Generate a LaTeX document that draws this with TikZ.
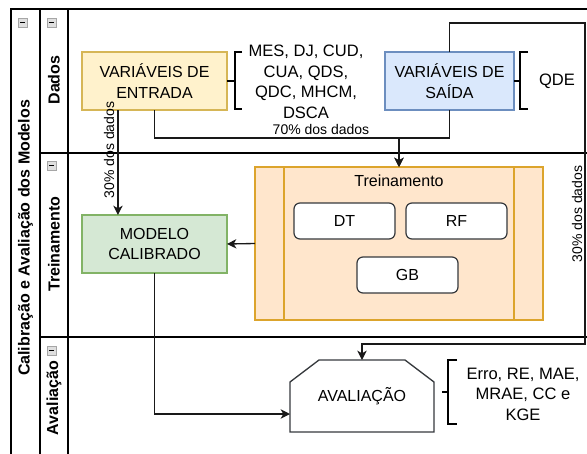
\documentclass[tikz,border=0pt]{standalone}
\usepackage{fontspec}
\setmainfont{Liberation Sans}
\usetikzlibrary{arrows.meta,calc}
\definecolor{yfill}{HTML}{FFF2CC}
\definecolor{ydraw}{HTML}{D6B656}
\definecolor{bfill}{HTML}{DAE8FC}
\definecolor{bdraw}{HTML}{6C8EBF}
\definecolor{gfill}{HTML}{D5E8D4}
\definecolor{gdraw}{HTML}{82B366}
\definecolor{ofill}{HTML}{FFE6CC}
\definecolor{odraw}{HTML}{DCA42C}
\definecolor{rdraw}{HTML}{36393D}
\begin{document}
\begin{tikzpicture}[x=0.75pt,y=-0.75pt,
  every node/.style={font=\fontsize{12}{15.4}\selectfont, inner sep=0pt, outer sep=0pt},
  box/.style={draw, line width=0.9pt, minimum width=145*0.75pt, minimum height=58*0.75pt, align=center},
  algo/.style={draw=rdraw, fill=white, line width=0.9pt, rounded corners=4.5pt, minimum width=101*0.75pt, minimum height=36*0.75pt},
  hdr/.style={rotate=90, font=\fontsize{12}{15}\selectfont\bfseries},
  small/.style={font=\fontsize{10.5}{12}\selectfont},
  poolline/.style={line width=1pt},
  conn/.style={line width=1pt, draw=black!90},
  arr/.style={conn, -{Stealth[length=7pt,width=7pt,inset=2pt]}},
  brk/.style={line width=2pt},
  icon/.style={draw=gray!70, fill=gray!25, line width=0.5pt, minimum width=9*0.75pt, minimum height=9*0.75pt}
]
\useasboundingbox (0,0) rectangle (587,454);
% pool and lanes
\draw[poolline] (11,454) -- (11,9) -- (587,9);
\draw[poolline] (40,9) -- (40,454);
\draw[poolline] (68,9) -- (68,454);
\draw[poolline] (40,153) -- (587,153);
\draw[poolline] (40,337) -- (587,337);
% headers
\node[hdr] (title) at (25.5,238) {Calibração e Avaliação dos Modelos};
\node[hdr] (dadosL) at (54,80) {Dados};
\node[hdr] (treinL) at (54,244) {Treinamento};
\node[hdr] (avalL) at (54,398) {Avaliação};
% collapse icons
\foreach \n/\cx/\cy in {i1/22.5/22.5, i2/51.5/22.5, i3/51.5/165.5, i4/51.5/350.5}{
  \node[icon] (\n) at (\cx,\cy) {};
  \draw[line width=0.9pt] ($(\n.center)+(-2.5,0)$) -- ($(\n.center)+(2.5,0)$);
}
% boxes
\node[box, fill=yfill, draw=ydraw] (entrada) at (154.5,81) {VARIÁVEIS DE\\ENTRADA};
\node[box, fill=bfill, draw=bdraw, minimum width=129*0.75pt] (saida) at (449.5,81) {VARIÁVEIS DE\\SAÍDA};
\node[box, fill=gfill, draw=gdraw] (modelo) at (154.5,244) {MODELO\\CALIBRADO};
% training container
\node[draw=odraw, fill=ofill, line width=0.9pt, minimum width=288*0.75pt, minimum height=153*0.75pt] (trein) at (399,243.5) {};
\draw[draw=odraw, line width=0.9pt] ($(trein.north west)+(29,0)$) -- ($(trein.south west)+(29,0)$);
\draw[draw=odraw, line width=0.9pt] ($(trein.north east)+(-29,0)$) -- ($(trein.south east)+(-29,0)$);
\node (treinT) at (399,181) {Treinamento};
\node[algo] (dt) at (344.5,221) {DT};
\node[algo] (rf) at (456.5,221) {RF};
\node[algo] (gb) at (407.5,275) {GB};
% evaluation
\node[minimum width=144*0.75pt, minimum height=72*0.75pt] (aval) at (362,396) {AVALIAÇÃO};
\draw[draw=rdraw, line width=1pt, line join=miter] (aval.south west) -- ($(aval.south west)+(0,-50)$) -- ($(aval.north west)+(29,0)$) -- ($(aval.north east)+(-29,0)$) -- ($(aval.south east)+(0,-50)$) -- (aval.south east) -- cycle;
% annotation texts
\node[align=center, font=\fontsize{12.4}{15.4}\selectfont] (vars) at (306,82) {MES, DJ, CUD,\\CUA, QDS,\\QDC, MHCM,\\DSCA};
\node[font=\fontsize{12.4}{15.4}\selectfont] (qde) at (557,81) {QDE};
\node[align=center, font=\fontsize{12.4}{15.4}\selectfont] (metr) at (523,394) {Erro, RE, MAE,\\MRAE, CC e\\KGE};
% brackets
\coordinate (b1t) at (235,52); \coordinate (b1b) at (235,109); \coordinate (b1m) at (235,81);
\draw[brk] ($(b1t)+(7,0)$) -- (b1t) -- (b1b) -- ($(b1b)+(7,0)$);
\draw[brk] (entrada.east) -- (b1m);
\coordinate (b2t) at (520,52); \coordinate (b2b) at (520,109); \coordinate (b2m) at (520,81);
\draw[brk] ($(b2t)+(8,0)$) -- (b2t) -- (b2b) -- ($(b2b)+(8,0)$);
\draw[brk] (saida.east) -- (b2m);
\coordinate (b3t) at (448,360); \coordinate (b3b) at (448,424); \coordinate (b3m) at (448,392);
\draw[brk] ($(b3t)+(9,0)$) -- (b3t) -- (b3b) -- ($(b3b)+(9,0)$);
\draw[brk] ($(b3m)+(-6,0)$) -- (b3m);
% connectors
\coordinate (j70) at (399,138);
\draw[arr] (entrada.south) |- (j70) -- (trein.north);
\draw[arr] (saida.south) |- (j70) -- (trein.north);
\node[small] (l70) at (321,129) {70\% dos dados};
\draw[arr] ([xshift=-27.4pt]entrada.south) -- ([xshift=-27.4pt]modelo.north);
\node[small, rotate=90] (l30a) at (109,150) {30\% dos dados};
\draw[arr] (trein.west) -- (modelo.east);
\draw[arr] (modelo.south) |- ([yshift=-13.5pt]aval.west);
\coordinate (c1) at (585,23);
\coordinate (c2) at (585,344);
\draw[arr] (saida.north) |- (c1) -- (c2) -| (aval.north);
\node[small, rotate=90] (l30b) at (577,214) {30\% dos dados};
\end{tikzpicture}
\end{document}
